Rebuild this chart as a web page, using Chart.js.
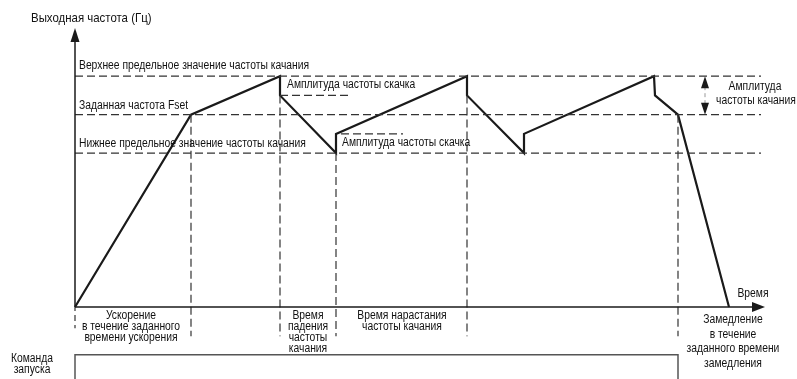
<!DOCTYPE html>
<html>
<head>
<meta charset="utf-8">
<script src="https://cdn.jsdelivr.net/npm/chart.js@4"></script>
<style>
html,body{margin:0;padding:0;background:#fff;}
#wrap{width:797px;height:379px;}
</style>
</head>
<body>
<div id="wrap"><canvas id="c" width="797" height="379"></canvas></div>
<script>
// ---- data (time units, frequency in Hz) ----
const curveTime = [0, 11.6, 20.5, 20.5, 26.1, 26.1, 39.2, 39.2, 44.9, 44.9, 57.9, 58.0, 60.3, 65.4];
const curveFreq = [0, 50, 60, 55, 40, 45, 60, 55, 40, 45, 60, 55, 50, 0];
const levelUpper = 60;
const levelSet = 50;
const levelLower = 40;
const jumpAmp = 5;
const markerTime = [11.6, 20.5, 26.1, 39.2, 60.3];
const markerFreq = [50, 55, 40, 55, 50];
const runStart = 0;
const runStop = 60.3;
const timeEnd = 69;

const FONT = '"Liberation Sans", Arial, sans-serif';
const INK = '#1a1a1a';
const DASH = '#333333';

const curve = curveTime.map((t, i) => ({x: t, y: curveFreq[i]}));
function hline(v, x0, x1) { return [{x: x0, y: v}, {x: x1, y: v}]; }

const datasets = [];
[levelUpper, levelSet, levelLower].forEach(v => {
  datasets.push({data: hline(v, 0, timeEnd - 0.4), borderColor: DASH, borderWidth: 1.2, borderDash: [8, 4], pointRadius: 0, showLine: true, clip: false});
});
markerTime.forEach((t, i) => {
  datasets.push({data: [{x: t, y: markerFreq[i]}, {x: t, y: -7.6}], borderColor: DASH, borderWidth: 1.2, borderDash: [8, 4], pointRadius: 0, showLine: true, clip: false});
});
datasets.push({data: [{x: 0, y: 0}, {x: 0, y: -5.5}], borderColor: DASH, borderWidth: 1.2, borderDash: [6, 4], borderDashOffset: 2, pointRadius: 0, showLine: true, clip: false});
// jump amplitude short dashes
datasets.push({data: hline(levelUpper - jumpAmp, 20.5, 27.5), borderColor: DASH, borderWidth: 1.2, borderDash: [8, 4], pointRadius: 0, showLine: true, clip: false});
datasets.push({data: hline(levelLower + jumpAmp, 26.6, 32.8), borderColor: DASH, borderWidth: 1.2, borderDash: [8, 4], pointRadius: 0, showLine: true, clip: false});
// run command box
datasets.push({data: [{x: runStart, y: -20}, {x: runStart, y: -12.4}, {x: runStop, y: -12.4}, {x: runStop, y: -20}], borderColor: '#555', borderWidth: 1.5, pointRadius: 0, showLine: true, clip: false, tension: 0});
// main curve
datasets.push({data: curve, borderColor: INK, borderWidth: 2.2, pointRadius: 0, showLine: true, clip: false, tension: 0});

const overlay = {
  id: 'overlay',
  afterDatasetsDraw(chart) {
    const ctx = chart.ctx;
    const xs = chart.scales.x, ys = chart.scales.y;
    const X = v => xs.getPixelForValue(v), Y = v => ys.getPixelForValue(v);
    const x0 = X(0), y0 = Y(0);
    ctx.save();
    // axes
    ctx.strokeStyle = INK; ctx.fillStyle = INK; ctx.lineWidth = 1.5;
    ctx.beginPath(); ctx.moveTo(x0, y0); ctx.lineTo(x0, 40); ctx.stroke();
    ctx.beginPath(); ctx.moveTo(x0, 28); ctx.lineTo(x0 - 4.5, 42); ctx.lineTo(x0 + 4.5, 42); ctx.closePath(); ctx.fill();
    const xEnd = X(timeEnd);
    ctx.beginPath(); ctx.moveTo(x0, y0); ctx.lineTo(xEnd - 10, y0); ctx.stroke();
    ctx.beginPath(); ctx.moveTo(xEnd, y0); ctx.lineTo(xEnd - 13, y0 - 5); ctx.lineTo(xEnd - 13, y0 + 5); ctx.closePath(); ctx.fill();
    // amplitude double arrow
    const ax = 705, yu = Y(levelUpper), yl = Y(levelSet);
    ctx.strokeStyle = '#999'; ctx.lineWidth = 1; ctx.setLineDash([4, 3]);
    ctx.beginPath(); ctx.moveTo(ax, yu + 10); ctx.lineTo(ax, yl - 10); ctx.stroke();
    ctx.setLineDash([]);
    ctx.fillStyle = INK;
    ctx.beginPath(); ctx.moveTo(ax, yu); ctx.lineTo(ax - 4, yu + 12); ctx.lineTo(ax + 4, yu + 12); ctx.closePath(); ctx.fill();
    ctx.beginPath(); ctx.moveTo(ax, yl); ctx.lineTo(ax - 4, yl - 12); ctx.lineTo(ax + 4, yl - 12); ctx.closePath(); ctx.fill();
    // texts (narrow look: horizontally condensed Liberation Sans)
    ctx.font = '12px ' + FONT;
    const sx = 109 / ctx.measureText('Заданная частота Fset').width;
    ctx.fillStyle = '#111';
    ctx.textBaseline = 'middle';
    function txt(s, x, y, align, size) {
      ctx.save();
      ctx.font = (size || 12) + 'px ' + FONT;
      ctx.textAlign = align || 'left';
      ctx.translate(x, y);
      ctx.scale(sx, 1);
      ctx.fillText(s, 0, 0);
      ctx.restore();
    }
    txt('Выходная частота (Гц)', 31, 18, 'left', 13.3);
    txt('Верхнее предельное значение частоты качания', 79, Y(levelUpper) - 10);
    txt('Заданная частота Fset', 79, Y(levelSet) - 9);
    txt('Нижнее предельное значение частоты качания', 79, Y(levelLower) - 9);
    txt('Амплитуда частоты скачка', X(20.5) + 7, Y(levelUpper) + 9);
    txt('Амплитуда частоты скачка', X(26.1) + 6, Y(levelLower) - 10);
    txt('Амплитуда', 755, 87, 'center');
    txt('частоты качания', 756, 101, 'center');
    txt('Время', 753, 294, 'center');
    const lab1 = ['Ускорение', 'в течение заданного', 'времени ускорения'];
    lab1.forEach((s, i) => txt(s, 131, 316 + i * 11, 'center'));
    const lab2 = ['Время', 'падения', 'частоты', 'качания'];
    lab2.forEach((s, i) => txt(s, 308, 316 + i * 11, 'center'));
    const lab3 = ['Время нарастания', 'частоты качания'];
    lab3.forEach((s, i) => txt(s, 402, 316 + i * 11, 'center'));
    const lab4 = ['Замедление', 'в течение', 'заданного времени', 'замедления'];
    lab4.forEach((s, i) => txt(s, 733, 320 + i * 14.5, 'center'));
    txt('Команда', 32, 359, 'center');
    txt('запуска', 32, 370, 'center');
    ctx.restore();
  }
};

new Chart(document.getElementById('c'), {
  type: 'scatter',
  data: {datasets},
  options: {
    responsive: false,
    animation: false,
    events: [],
    layout: {padding: {left: 75, right: 32, top: 30, bottom: 0}},
    plugins: {legend: {display: false}, tooltip: {enabled: false}},
    scales: {
      x: {type: 'linear', min: 0, max: timeEnd, display: false},
      y: {type: 'linear', min: -18.72, max: 72, display: false}
    }
  },
  plugins: [overlay]
});
</script>
</body>
</html>
